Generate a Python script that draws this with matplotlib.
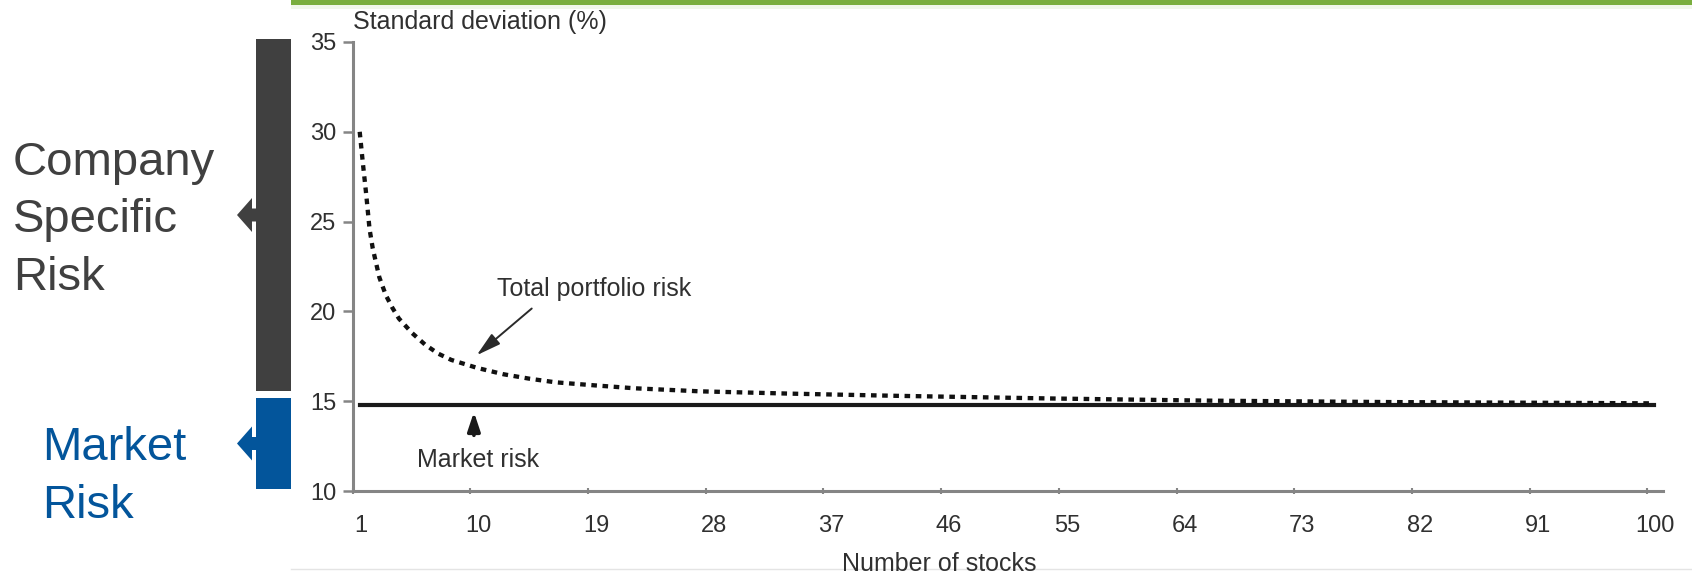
import matplotlib.pyplot as plt
import matplotlib.transforms as mtransforms
from matplotlib.patches import Rectangle, Polygon
from matplotlib.lines import Line2D

plt.rcParams['font.family'] = ['Liberation Sans', 'DejaVu Sans']

# Portfolio standard deviation (%) against number of stocks held
n_stocks = [1, 1.25, 1.5, 1.75, 2, 2.5, 3, 3.5, 4, 5, 6, 7, 8, 10, 12, 14, 16,
            19, 22, 27, 34, 42, 54, 66, 80, 95, 100]
total_risk = [30.0, 28.2, 26.5, 24.6, 23.5, 21.9, 20.9, 20.2, 19.6, 18.8, 18.15,
              17.65, 17.3, 16.85, 16.5, 16.25, 16.05, 15.88, 15.72, 15.55, 15.42,
              15.3, 15.15, 15.03, 14.95, 14.9, 14.88]
market_n = [1, 100]
market_risk = [14.8, 14.8]

x_ticks = [1, 10, 19, 28, 37, 46, 55, 64, 73, 82, 91, 100]
y_ticks = [10, 15, 20, 25, 30, 35]

side_labels = [["Company", "Specific", "Risk"], ["Market", "Risk"]]

W, H = 1692, 575
DARK = '#404040'
BLUE = '#03559b'
INK = '#303030'
AXIS = '#858585'

fig = plt.figure(figsize=(W / 100, H / 100), dpi=100)
# pixel coordinates measured from the top-left corner of the figure
px = mtransforms.Affine2D().scale(1 / W, -1 / H).translate(0, 1) + fig.transFigure

ax = fig.add_axes([352.7 / W, 1 - 491 / H, (1663 - 352.7) / W, 449 / H])
ax.set_xlim(1, 101.2)
ax.set_ylim(10, 35)

shift = mtransforms.ScaledTranslation(0.07, 0, fig.dpi_scale_trans)
ax.plot(market_n, market_risk, color='#1a1a1a', lw=3.0,
        transform=ax.transData + shift, clip_on=False)
ax.plot(n_stocks, total_risk, color='#111111', lw=3.1, ls=(0, (1.3, 1.3)),
        dash_capstyle='butt', transform=ax.transData + shift, clip_on=False)

for side in ['top', 'right']:
    ax.spines[side].set_visible(False)
for side in ['left', 'bottom']:
    ax.spines[side].set_color(AXIS)
    ax.spines[side].set_linewidth(2.2)

ax.set_xticks(x_ticks)
ax.set_yticks(y_ticks)
ax.tick_params(axis='y', direction='out', length=7, width=1.8, color=AXIS,
               pad=5, labelsize=17, labelcolor=INK)
ax.tick_params(axis='x', direction='inout', length=5, width=1.5, color=AXIS,
               pad=15, labelsize=17, labelcolor=INK)
lbl_shift = mtransforms.ScaledTranslation(0.08, 0, fig.dpi_scale_trans)
for lbl in ax.get_xticklabels():
    lbl.set_transform(lbl.get_transform() + lbl_shift)

# annotations
ax.text(12.03, 21.24, "Total portfolio risk", fontsize=18, color=INK,
        ha='left', va='center')
ax.annotate('', xy=(10.48, 17.56), xytext=(14.69, 20.16),
            arrowprops=dict(arrowstyle='-|>,head_length=1.0,head_width=0.27',
                            mutation_scale=15, lw=1.4, color='#2a2a2a',
                            shrinkA=0, shrinkB=0))
ax.text(5.92, 11.71, "Market risk", fontsize=18, color=INK,
        ha='left', va='center')
ax.annotate('', xy=(10.27, 14.40), xytext=(10.27, 13.10),
            arrowprops=dict(arrowstyle='-|>,head_length=0.75,head_width=0.25',
                            mutation_scale=15, lw=2.6, color='#1a1a1a',
                            shrinkA=0, shrinkB=0))

fig.text(353, 29, "Standard deviation (%)", transform=px, fontsize=18,
         color=INK, ha='left', va='baseline')
fig.text(939, 571, "Number of stocks", transform=px, fontsize=18,
         color=INK, ha='center', va='baseline')

# green strip along the top and faint frame line at the bottom
fig.add_artist(Rectangle((291, 0), W - 291, 5, transform=px, color='#7aae3e', lw=0))
fig.add_artist(Rectangle((291, 5), W - 291, 4, transform=px, color='#f1f7ea', lw=0))
fig.add_artist(Line2D([291, W], [569, 569], transform=px, color='#e4e4e4', lw=1))

# bracket bars with arrows on the left
bars = [(39, 391, DARK), (398, 489, BLUE)]
for (top, bottom, col) in bars:
    fig.add_artist(Rectangle((256, top), 35, bottom - top, transform=px,
                             color=col, lw=0))
    cy = (top + bottom) / 2
    pts = [(237, cy), (252, cy - 17), (252, cy - 6.5), (257, cy - 6.5),
           (257, cy + 6.5), (252, cy + 6.5), (252, cy + 17)]
    fig.add_artist(Polygon(pts, closed=True, transform=px, color=col, lw=0))

# side captions, one text per line
captions = [(13, 175, DARK), (42, 460, BLUE)]
for lines, (x0, base, col) in zip(side_labels, captions):
    for i, line in enumerate(lines):
        fig.text(x0, base + i * 57.5, line, transform=px, fontsize=34,
                 color=col, ha='left', va='baseline')

fig.savefig('out.png', dpi=100)
